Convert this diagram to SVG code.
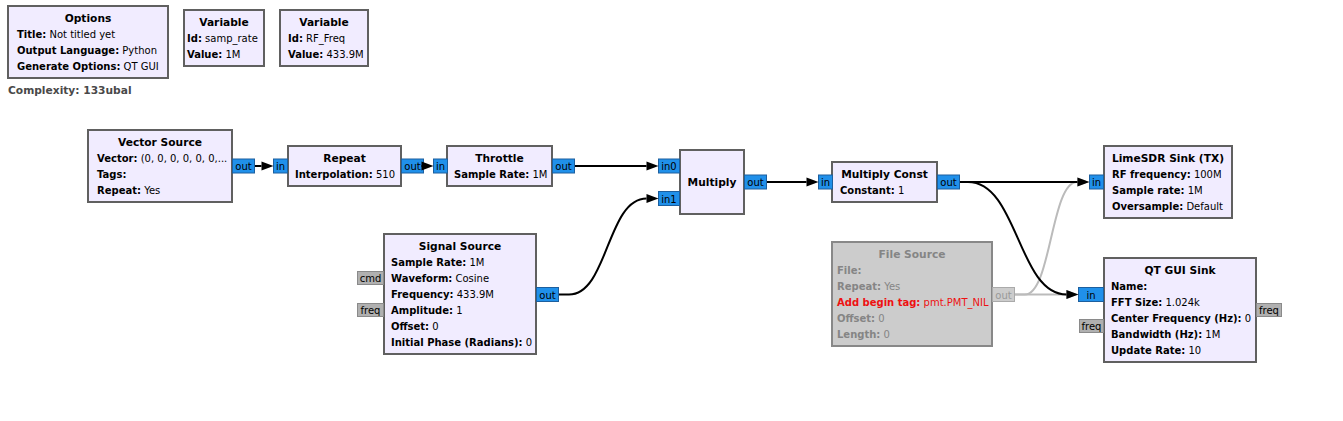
<svg xmlns="http://www.w3.org/2000/svg" width="1343" height="421" viewBox="0 0 1343 421">
<style>
text{font-family:"DejaVu Sans","Liberation Sans",sans-serif;font-size:10px;fill:#000}
.b{font-weight:bold}
.c{text-anchor:middle}
.h{font-weight:bold;font-size:10.67px;text-anchor:middle}
.blk{fill:#F1ECFF;stroke:#606060;stroke-width:2}
.dis{fill:#CCCCCC;stroke:#888888;stroke-width:2}
.dt{fill:#858585}
.red{fill:#EE1111}
.cx{fill:#494949;font-weight:bold;font-size:10.67px}
.pb{fill:#2090EA;stroke:#1D5F9E;stroke-width:1}
.pg{fill:#B0B0B0;stroke:#8A8A8A;stroke-width:1}
.pd{fill:#CCCCCC;stroke:#AAAAAA;stroke-width:1}
.pdt{fill:#999999}
.w{fill:none;stroke:#000;stroke-width:2;marker-end:url(#ab)}
.wg{fill:none;stroke:#BBBBBB;stroke-width:2;marker-end:url(#ag)}
</style>
<defs>
<marker id="ab" markerUnits="userSpaceOnUse" markerWidth="12" markerHeight="10" refX="0" refY="4.5" orient="auto" overflow="visible"><path d="M0,0 L12,4.5 L0,9 Z" fill="#000"/></marker>
<marker id="ag" markerUnits="userSpaceOnUse" markerWidth="12" markerHeight="10" refX="0" refY="4.5" orient="auto" overflow="visible"><path d="M0,0 L12,4.5 L0,9 Z" fill="#BBBBBB"/></marker>
</defs>
<rect width="1343" height="421" fill="#FFFFFF"/>

<g id="options">
<rect class="blk" x="8" y="6" width="160" height="72"/>
<text class="h" x="88" y="22">Options</text>
<text x="17" y="38"><tspan class="b">Title:</tspan> Not titled yet</text>
<text x="17" y="54"><tspan class="b">Output Language:</tspan> Python</text>
<text x="17" y="70"><tspan class="b">Generate Options:</tspan> QT GUI</text>
<text class="cx" x="8" y="94">Complexity: 133ubal</text>
</g>

<g id="var_samp_rate">
<rect class="blk" x="184" y="10" width="80" height="56"/>
<text class="h" x="224" y="26">Variable</text>
<text x="187" y="42"><tspan class="b">Id:</tspan> samp_rate</text>
<text x="187" y="58"><tspan class="b">Value:</tspan> 1M</text>
</g>

<g id="var_rf_freq">
<rect class="blk" x="280" y="10" width="88" height="56"/>
<text class="h" x="324" y="26">Variable</text>
<text x="288" y="42"><tspan class="b">Id:</tspan> RF_Freq</text>
<text x="288" y="58"><tspan class="b">Value:</tspan> 433.9M</text>
</g>

<g id="vector_source">
<rect class="blk" x="88" y="130" width="144" height="72"/>
<text class="h" x="160" y="146">Vector Source</text>
<text x="97" y="162"><tspan class="b">Vector:</tspan> (0, 0, 0, 0, 0, 0,...</text>
<text x="97" y="178"><tspan class="b">Tags:</tspan></text>
<text x="97" y="194"><tspan class="b">Repeat:</tspan> Yes</text>
<rect class="pb" x="232.5" y="159" width="22" height="14"/>
<text class="c" x="243.5" y="170">out</text>
</g>

<g id="repeat">
<rect class="blk" x="288" y="146" width="113" height="40"/>
<text class="h" x="344.5" y="162">Repeat</text>
<text x="295" y="178"><tspan class="b">Interpolation:</tspan> 510</text>
<rect class="pb" x="273.5" y="159" width="14" height="14"/>
<text class="c" x="280.5" y="170">in</text>
<rect class="pb" x="401.5" y="159" width="22" height="14"/>
<text class="c" x="412.5" y="170">out</text>
</g>

<g id="throttle">
<rect class="blk" x="447" y="146" width="105" height="40"/>
<text class="h" x="499.5" y="162">Throttle</text>
<text x="454" y="178"><tspan class="b">Sample Rate:</tspan> 1M</text>
<rect class="pb" x="433.5" y="159" width="14" height="14"/>
<text class="c" x="440.5" y="170">in</text>
<rect class="pb" x="552.5" y="159" width="22" height="14"/>
<text class="c" x="563.5" y="170">out</text>
</g>

<g id="multiply">
<rect class="blk" x="680" y="150" width="64" height="64"/>
<text class="h" x="712" y="186">Multiply</text>
<rect class="pb" x="658.5" y="159" width="21" height="14"/>
<text class="c" x="669" y="170">in0</text>
<rect class="pb" x="658.5" y="191.5" width="21" height="14"/>
<text class="c" x="669" y="202.5">in1</text>
<rect class="pb" x="744.5" y="175" width="22" height="14"/>
<text class="c" x="755.5" y="186">out</text>
</g>

<g id="signal_source">
<rect class="blk" x="384" y="234" width="152" height="120"/>
<text class="h" x="460" y="250">Signal Source</text>
<text x="391" y="266"><tspan class="b">Sample Rate:</tspan> 1M</text>
<text x="391" y="282"><tspan class="b">Waveform:</tspan> Cosine</text>
<text x="391" y="298"><tspan class="b">Frequency:</tspan> 433.9M</text>
<text x="391" y="314"><tspan class="b">Amplitude:</tspan> 1</text>
<text x="391" y="330"><tspan class="b">Offset:</tspan> 0</text>
<text x="391" y="346"><tspan class="b">Initial Phase (Radians):</tspan> 0</text>
<rect class="pg" x="357.5" y="271.5" width="26" height="13"/>
<text class="c" x="370.5" y="282">cmd</text>
<rect class="pg" x="357.5" y="303.5" width="26" height="13"/>
<text class="c" x="370.5" y="314">freq</text>
<rect class="pb" x="536.5" y="287.5" width="22" height="14"/>
<text class="c" x="547.5" y="298.5">out</text>
</g>

<g id="multiply_const">
<rect class="blk" x="832" y="162" width="105" height="40"/>
<text class="h" x="884.5" y="178">Multiply Const</text>
<text x="840" y="194"><tspan class="b">Constant:</tspan> 1</text>
<rect class="pb" x="818.5" y="175" width="14" height="14"/>
<text class="c" x="825.5" y="186">in</text>
<rect class="pb" x="937.5" y="175" width="22" height="14"/>
<text class="c" x="948.5" y="186">out</text>
</g>

<g id="limesdr_sink">
<rect class="blk" x="1104" y="146" width="128" height="72"/>
<text class="h" x="1168" y="162">LimeSDR Sink (TX)</text>
<text x="1112" y="178"><tspan class="b">RF frequency:</tspan> 100M</text>
<text x="1112" y="194"><tspan class="b">Sample rate:</tspan> 1M</text>
<text x="1112" y="210"><tspan class="b">Oversample:</tspan> Default</text>
<rect class="pb" x="1089.5" y="175" width="14" height="14"/>
<text class="c" x="1096.5" y="186">in</text>
</g>

<g id="file_source">
<rect class="dis" x="832" y="242" width="160" height="104"/>
<text class="h dt" x="912" y="258">File Source</text>
<text class="dt" x="837" y="274"><tspan class="b">File:</tspan></text>
<text class="dt" x="837" y="290"><tspan class="b">Repeat:</tspan> Yes</text>
<text class="red" x="837" y="306"><tspan class="b">Add begin tag:</tspan> pmt.PMT_NIL</text>
<text class="dt" x="837" y="322"><tspan class="b">Offset:</tspan> 0</text>
<text class="dt" x="837" y="338"><tspan class="b">Length:</tspan> 0</text>
<rect class="pd" x="992.5" y="287.5" width="22" height="14"/>
<text class="c pdt" x="1003.5" y="298.5">out</text>
</g>

<g id="qt_gui_sink">
<rect class="blk" x="1104" y="258" width="152" height="104"/>
<text class="h" x="1180" y="274">QT GUI Sink</text>
<text x="1111" y="290"><tspan class="b">Name:</tspan></text>
<text x="1111" y="306"><tspan class="b">FFT Size:</tspan> 1.024k</text>
<text x="1111" y="322"><tspan class="b">Center Frequency (Hz):</tspan> 0</text>
<text x="1111" y="338"><tspan class="b">Bandwidth (Hz):</tspan> 1M</text>
<text x="1111" y="354"><tspan class="b">Update Rate:</tspan> 10</text>
<rect class="pb" x="1078.5" y="287.5" width="25" height="14"/>
<text class="c" x="1091" y="298.5">in</text>
<rect class="pg" x="1079.5" y="319.5" width="24" height="13"/>
<text class="c" x="1091.5" y="330">freq</text>
<rect class="pg" x="1256.5" y="303.5" width="25" height="13"/>
<text class="c" x="1269" y="314">freq</text>
</g>

<g id="connectors">
<path class="wg" d="M1015,294.5 H1066"/>
<path class="wg" d="M1015,294.5 H1025 C1051,294.5 1051,182 1077,182"/>
<path class="w" d="M255,166 H261.5"/>
<path class="w" d="M424,166 H421.5 L421.5,166"/>
<path class="w" d="M575,166 H646.5"/>
<path class="w" d="M559,294.5 H569 C608,294.5 607,198.5 646.5,198.5"/>
<path class="w" d="M767,182 H806.5"/>
<path class="w" d="M960,182 H1077.5"/>
<path class="w" d="M960,182 H968 C1018,182 1018,294.5 1066.5,294.5"/>
</g>
</svg>
